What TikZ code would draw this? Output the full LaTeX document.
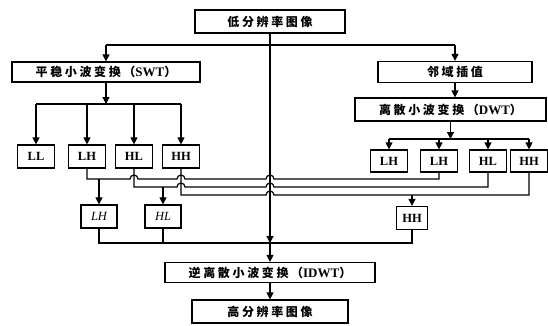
\documentclass[tikz,border=0pt]{standalone}
\usepackage{fontspec}
\setmainfont{Liberation Serif}
\newfontfamily\cjk[LetterSpace=22]{Noto Sans CJK SC}
\newcommand\lat[1]{{\rmfamily\bfseries\fontsize{13}{13}\selectfont #1}}
\usetikzlibrary{arrows.meta}
\tikzset{
  box/.style={draw, line width=1.2pt, inner sep=0pt, font=\fontsize{12.5}{12.5}\selectfont\bfseries},
  cbox/.style={draw, line width=1.2pt, inner sep=0pt, font=\fontsize{12}{12}\selectfont\cjk\bfseries},
  sbox/.style={box, minimum width=37pt, minimum height=23pt},
  dbox/.style={box, minimum width=37pt, minimum height=22pt},
  ln/.style={line width=1.2pt},
  arr/.style={ln, -{Triangle[length=7pt,width=7pt]}}
}
\begin{document}
\begin{tikzpicture}[x=1pt,y=-1pt]
\useasboundingbox (0,0) rectangle (548,325);
% boxes
\node[cbox, minimum width=150pt, minimum height=23pt] (top) at (270,21.5) {低分辨率图像};
\node[cbox, minimum width=188pt, minimum height=20pt] (swt) at (106,72) {平稳小波变换（\lat{SWT}）};
\node[cbox, minimum width=154pt, minimum height=21pt] (nbr) at (455,72) {邻域插值};
\node[cbox, minimum width=191pt, minimum height=23pt] (dwt) at (450.5,109.5) {离散小波变换（\lat{DWT}）};
\node[sbox] (ll)  at (36,156.5)  {LL};
\node[sbox] (lhs) at (87,156.5)  {LH};
\node[sbox] (hls) at (134,156.5) {HL};
\node[sbox] (hhs) at (181,156.5) {HH};
\node[dbox] (lhd1) at (389,161) {LH};
\node[dbox] (lhd2) at (439,161) {LH};
\node[dbox] (hld)  at (488,161) {HL};
\node[dbox] (hhd)  at (529,161) {HH};
\node[sbox, minimum width=36pt, font=\fontsize{12.5}{12.5}\selectfont\itshape] (lh2) at (99,216.5) {LH};
\node[sbox, minimum width=36pt, font=\fontsize{12.5}{12.5}\selectfont\itshape] (hl2) at (163,216.5) {HL};
\node[sbox, minimum width=31pt] (hh2) at (412,218) {HH};
\node[cbox, minimum width=210pt, minimum height=20pt] (idwt) at (270,272.5) {逆离散小波变换（\lat{IDWT}）};
\node[cbox, minimum width=156pt, minimum height=23pt] (high) at (270,311.5) {高分辨率图像};
% helper coordinates
\coordinate (tb) at (270,45);
\coordinate (sb) at (106,104);
\coordinate (db) at (450.5,139);
\coordinate (l1) at (0,179);
\coordinate (l2) at (0,187);
\coordinate (l3) at (0,195);
\coordinate (j)  at (270,243);
% top distribution
\draw[ln] (swt.north |- tb) -- (nbr.north |- tb);
\draw[arr] (swt.north |- tb) -- (swt.north);
\draw[arr] (nbr.north |- tb) -- (nbr.north);
\draw[arr] (nbr.south) -- (nbr.south |- dwt.north);
% main vertical
\draw[arr] (top.south) -- (j);
\draw[arr] (j) -- (idwt.north);
\draw[arr] (idwt.south) -- (high.north);
% SWT branches
\draw[arr] (swt.south) -- (sb);
\draw[ln] (ll.north |- sb) -- (hhs.north |- sb);
\foreach \n in {ll,lhs,hls,hhs} \draw[arr] (\n.north |- sb) -- (\n.north);
% DWT branches
\draw[arr] (dwt.south) -- (db);
\draw[ln] (lhd1.north |- db) -- (hhd.north |- db);
\foreach \n in {lhd1,lhd2,hld,hhd} \draw[arr] (\n.north |- db) -- (\n.north);
% combining lines with hops
\draw[ln] (lhs.south) -- (lhs.south |- l1) -- (130,179) arc[start angle=180,end angle=0,radius=4pt]
  -- (177,179) arc[start angle=180,end angle=0,radius=4pt]
  -- (266,179) arc[start angle=180,end angle=0,radius=4pt]
  -- (lhd2.south |- l1) -- (lhd2.south);
\draw[ln] (hls.south) -- (hls.south |- l2)
  -- (177,187) arc[start angle=180,end angle=0,radius=4pt]
  -- (266,187) arc[start angle=180,end angle=0,radius=4pt]
  -- (hld.south |- l2) -- (hld.south);
\draw[ln] (hhs.south) -- (hhs.south |- l3)
  -- (266,195) arc[start angle=180,end angle=0,radius=4pt]
  -- (hhd.south |- l3) -- (hhd.south);
\draw[arr] (lh2.north |- l1) -- (lh2.north);
\draw[arr] (hl2.north |- l2) -- (hl2.north);
\draw[arr] (hh2.north |- l3) -- (hh2.north);
% bottom gathering
\draw[ln] (lh2.south) -- (lh2.south |- j) -- (hh2.south |- j) -- (hh2.south);
\draw[ln] (hl2.south) -- (hl2.south |- j);
\end{tikzpicture}
\end{document}
